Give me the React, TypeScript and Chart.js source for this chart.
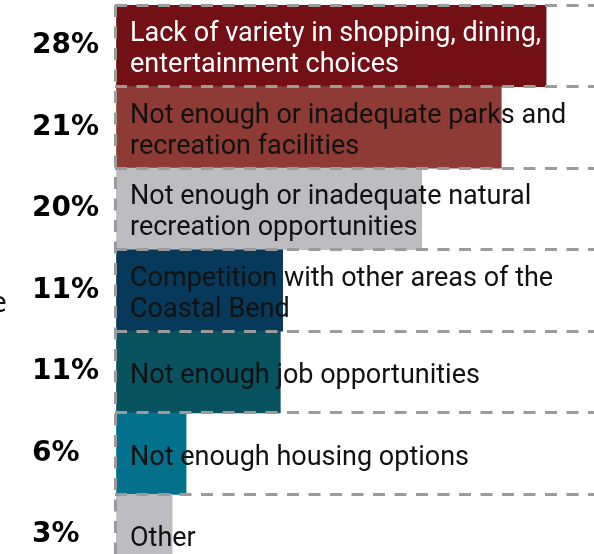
import React, { useEffect, useRef } from "react";
import { Chart, registerables } from "chart.js";

Chart.register(...registerables);

const categories: string[][] = [
  ["Lack of variety in shopping, dining,", "entertainment choices"],
  ["Not enough or inadequate parks and", "recreation facilities"],
  ["Not enough or inadequate natural", "recreation opportunities"],
  ["Competition with other areas of the", "Coastal Bend"],
  ["Not enough job opportunities"],
  ["Not enough housing options"],
  ["Other"],
];
const percentLabels: string[] = ["28%", "21%", "20%", "11%", "11%", "6%", "3%"];
const barValues: number[] = [27.9, 25.0, 19.85, 10.85, 10.7, 4.6, 3.7];
const barColors: string[] = ["#721016", "#8e3b36", "#bdbcc0", "#07395a", "#09525f", "#03718b", "#bdbcc0"];
const textColors: string[] = ["#ffffff", "#111111", "#111111", "#111111", "#111111", "#111111", "#111111"];
const clippedText = "e";

const GRID = "#9b9b9b";

const barTextPlugin = {
  id: "barText",
  afterDraw(chart: any) {
    const { ctx, chartArea } = chart;
    const meta = chart.getDatasetMeta(0);
    ctx.save();
    ctx.font = '27px Roboto';
    ctx.textAlign = "left";
    ctx.textBaseline = "alphabetic";
    meta.data.forEach((bar: any, i: number) => {
      const lines = categories[i];
      const lh = 31;
      const start = bar.y + 11 - ((lines.length - 1) * lh) / 2;
      ctx.fillStyle = textColors[i];
      lines.forEach((l, j) => ctx.fillText(l, chartArea.left + 15, start + j * lh));
    });
    ctx.font = '28px "DejaVu Sans"';
    ctx.fillStyle = "#111111";
    ctx.textAlign = "right";
    ctx.fillText(clippedText, 7, meta.data[3].y + 21);
    ctx.restore();
  },
};

export default function App() {
  const ref = useRef<HTMLCanvasElement | null>(null);
  useEffect(() => {
    if (!ref.current) return;
    const chart = new Chart(ref.current, {
      type: "bar",
      data: {
        labels: percentLabels,
        datasets: [
          {
            data: barValues,
            backgroundColor: barColors,
            borderWidth: 0,
            barPercentage: 1,
            categoryPercentage: 1,
          },
        ],
      },
      options: {
        indexAxis: "y",
        animation: false,
        responsive: false,
        maintainAspectRatio: false,
        layout: { padding: { left: 32, top: 5, right: 0, bottom: 0 } },
        plugins: { legend: { display: false }, tooltip: { enabled: false } },
        scales: {
          x: {
            display: true,
            min: 0,
            max: 31,
            ticks: { display: false, stepSize: 5 },
            grid: {
              drawTicks: false,
              lineWidth: 3,
              z: 1,
              color: (c: any) => (c.tick && c.tick.value === 0 ? GRID : "rgba(0,0,0,0)"),
            },
            border: { display: false, dash: [12, 9.5] },
          },
          y: {
            grid: { drawTicks: false, lineWidth: 3, color: GRID, z: 1, offset: true },
            border: { display: false, dash: [12, 9.5] },
            ticks: {
              crossAlign: "far",
              color: "#000000",
              font: { family: "DejaVu Sans", size: 28, weight: "bold" },
            },
            afterFit: (scale: any) => {
              scale.width = 83;
              scale.paddingTop = 0;
              scale.paddingBottom = 0;
            },
          },
        },
      },
      plugins: [barTextPlugin],
    } as any);
    return () => chart.destroy();
  }, []);
  return (
    <div style={{ position: "fixed", left: 0, top: 0, width: 594, height: 554, overflow: "hidden", background: "#fff" }}>
      <canvas ref={ref} width={594} height={576} style={{ display: "block" }} />
    </div>
  );
}
